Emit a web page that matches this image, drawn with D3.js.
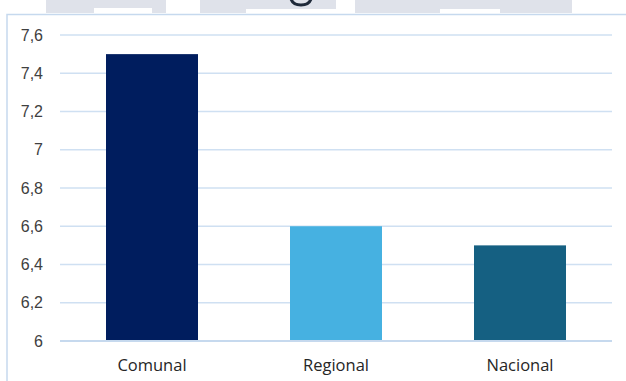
<!DOCTYPE html>
<html><head><meta charset="utf-8">
<script src="https://cdn.jsdelivr.net/npm/d3@7"></script>
<style>html,body{margin:0;padding:0;background:#fff;overflow:hidden}</style>
</head><body>
<svg id="c" width="626" height="381"></svg>
<script>
const categories = ["Comunal", "Regional", "Nacional"];
const values = [7.5, 6.6, 6.5];
const colors = ["#001d5e", "#46b1e1", "#156082"];
const yTicks = [6, 6.2, 6.4, 6.6, 6.8, 7, 7.2, 7.4, 7.6];

const svg = d3.select("#c");
const W = 626, H = 381;
const m = {left: 60, right: 14, top: 35, bottom: 40};

// top title remnant band (cropped title area)
const band = [[46,94,13],[94,152,8],[152,166,13],[200,246,13],[246,336,9],[355,440,13],[440,500,9],[500,530,13],[530,572,13]];
svg.selectAll("rect.band").data(band).join("rect")
  .attr("x", d => d[0]).attr("y", 0).attr("width", d => d[1]-d[0]).attr("height", d => d[2])
  .attr("fill", "#dfe2ea");
// descender fragment of the cropped title glyph
svg.append("path").attr("d", "M291,-1 Q293,5 301,5 Q309,5 311,-1")
  .attr("fill", "none").attr("stroke", "#1f2a3a").attr("stroke-width", 3);

// chart frame
svg.append("path").attr("d", `M7,${H} V14.5 H${W}`).attr("fill","none")
  .attr("stroke","#c6d9ee").attr("stroke-width",1.5);

const x = d3.scaleBand().domain(categories).range([m.left, W - m.right]).paddingInner(0.5).paddingOuter(0.25);
const y = d3.scaleLinear().domain([6, 7.6]).range([H - m.bottom, m.top]);

svg.append("g").selectAll("line").data(yTicks).join("line")
  .attr("x1", m.left).attr("x2", W - m.right)
  .attr("y1", d => y(d)).attr("y2", d => y(d))
  .attr("stroke", "#cfe0f2").attr("stroke-width", 1.5);

svg.append("g").selectAll("rect").data(values).join("rect")
  .attr("x", (d,i) => x(categories[i])).attr("width", x.bandwidth())
  .attr("y", d => y(d)).attr("height", d => y(6) - y(d))
  .attr("fill", (d,i) => colors[i]);

svg.append("line").attr("x1", m.left).attr("x2", W - m.right)
  .attr("y1", y(6)).attr("y2", y(6)).attr("stroke", "#c6d9ee").attr("stroke-width", 2);

svg.append("g").selectAll("text").data(yTicks).join("text")
  .attr("x", 43).attr("y", d => y(d)).attr("dy", "0.35em")
  .attr("text-anchor", "end").attr("font-family", "Liberation Sans, Arial, sans-serif")
  .attr("font-size", 16).attr("fill", "#404040")
  .text(d => String(d).replace(".", ","));

svg.append("g").selectAll("text").data(categories).join("text")
  .attr("x", d => x(d) + x.bandwidth()/2).attr("y", 371)
  .attr("text-anchor", "middle").attr("font-family", "Open Sans, sans-serif")
  .attr("font-size", 16.5).attr("fill", "#262626")
  .text(d => d);
</script>
</body></html>
